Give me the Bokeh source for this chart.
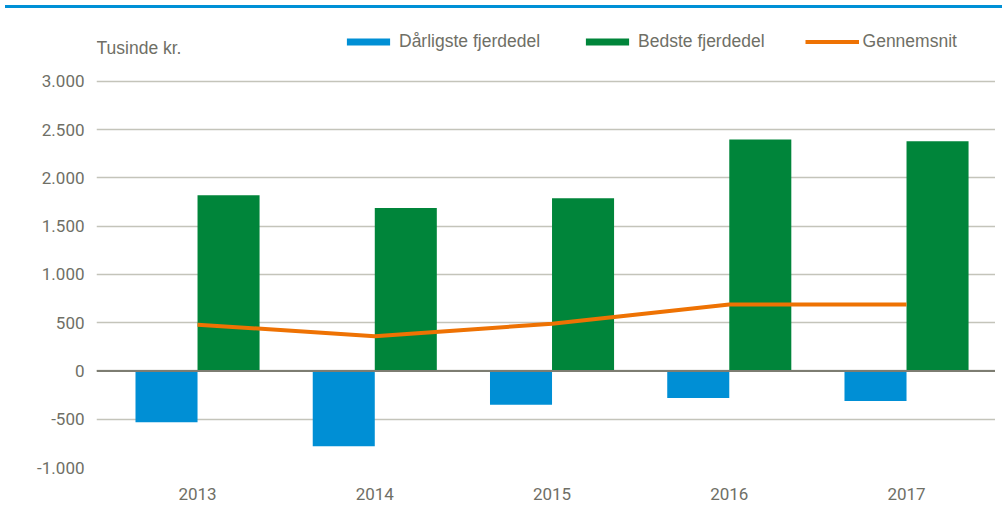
from bokeh.plotting import figure
from bokeh.models import (ColumnDataSource, Legend, LegendItem, CustomJSTickFormatter,
                          FixedTicker, Span, Range1d, Label, Div)
from bokeh.layouts import column
from bokeh.embed import file_html
from bokeh.resources import INLINE
from bokeh.transform import dodge

years = ["2013", "2014", "2015", "2016", "2017"]
worst_quarter = [-530, -780, -350, -280, -310]
best_quarter = [1820, 1690, 1790, 2400, 2380]
average = [480, 360, 490, 690, 690]
y_ticks = [-1000, -500, 0, 500, 1000, 1500, 2000, 2500, 3000]
series_names = ["Dårligste fjerdedel", "Bedste fjerdedel", "Gennemsnit"]
unit_label = "Tusinde kr."

BLUE = "#008FD5"
GREEN = "#00853A"
ORANGE = "#EE7203"
TEXT = "#6F6F66"
GRID = "#C4C4BA"
TOPLINE = "#0090D6"
SANS = "Liberation Sans"

idx = list(range(len(years)))
src = ColumnDataSource(dict(i=idx, worst=worst_quarter, best=best_quarter, avg=average))

X0, X1 = -0.57, 4.502
Y0, Y1 = -1000, 3580
p = figure(x_range=Range1d(X0, X1), y_range=Range1d(Y0, Y1), width=995, height=494,
           output_backend="svg", toolbar_location=None,
           min_border_left=96, min_border_right=0, min_border_top=12, min_border_bottom=40)
p.outline_line_color = None
p.background_fill_color = "white"
p.border_fill_color = "white"

bw = 0.35
r_worst = p.vbar(x=dodge("i", -bw / 2), top="worst", bottom=0, width=bw,
                 source=src, fill_color=BLUE, line_color=None)
r_best = p.vbar(x=dodge("i", bw / 2), top="best", bottom=0, width=bw,
                source=src, fill_color=GREEN, line_color=None)
p.add_layout(Span(location=0, dimension="width", line_color="#7D7D72", line_width=2))
r_avg = p.line(x="i", y="avg", source=src, line_color=ORANGE, line_width=4)

p.xaxis.ticker = FixedTicker(ticks=idx)
p.xaxis.major_label_overrides = {i: y for i, y in zip(idx, years)}
p.yaxis.ticker = FixedTicker(ticks=y_ticks)
p.ygrid.ticker = FixedTicker(ticks=y_ticks)
p.yaxis.formatter = CustomJSTickFormatter(
    code="return String(tick).replace(/\\B(?=(\\d{3})+(?!\\d))/g, '.');")
for ax in (p.xaxis, p.yaxis):
    ax.axis_line_color = None
    ax.major_tick_line_color = None
    ax.minor_tick_line_color = None
    ax.major_label_text_font = "Roboto"
    ax.major_label_text_font_size = "17px"
    ax.major_label_text_color = TEXT
p.yaxis.major_label_standoff = 6
p.xaxis.major_label_standoff = 14
p.xgrid.grid_line_color = None
p.ygrid.grid_line_color = GRID
p.ygrid.grid_line_width = 1.5

p.add_layout(Label(x=X0, y=3352, text=unit_label, text_font=SANS, text_font_size="17.5px",
                   text_color=TEXT, text_align="left", text_baseline="middle"))

legend = Legend(items=[LegendItem(label=series_names[0], renderers=[r_worst]),
                       LegendItem(label=series_names[1], renderers=[r_best]),
                       LegendItem(label=series_names[2], renderers=[r_avg])],
                orientation="horizontal", location=(245, 415), glyph_width=54, glyph_height=9,
                label_text_font=SANS, label_text_font_size="17.5px",
                label_text_color=TEXT, spacing=40, label_standoff=4, padding=0, margin=0,
                border_line_color=None, background_fill_alpha=0)
p.add_layout(legend, "center")

top_bar = Div(width=997, height=3, styles={"background-color": TOPLINE})
layout = column(top_bar, p, spacing=0)
open("out.html", "w").write(file_html(layout, INLINE))
